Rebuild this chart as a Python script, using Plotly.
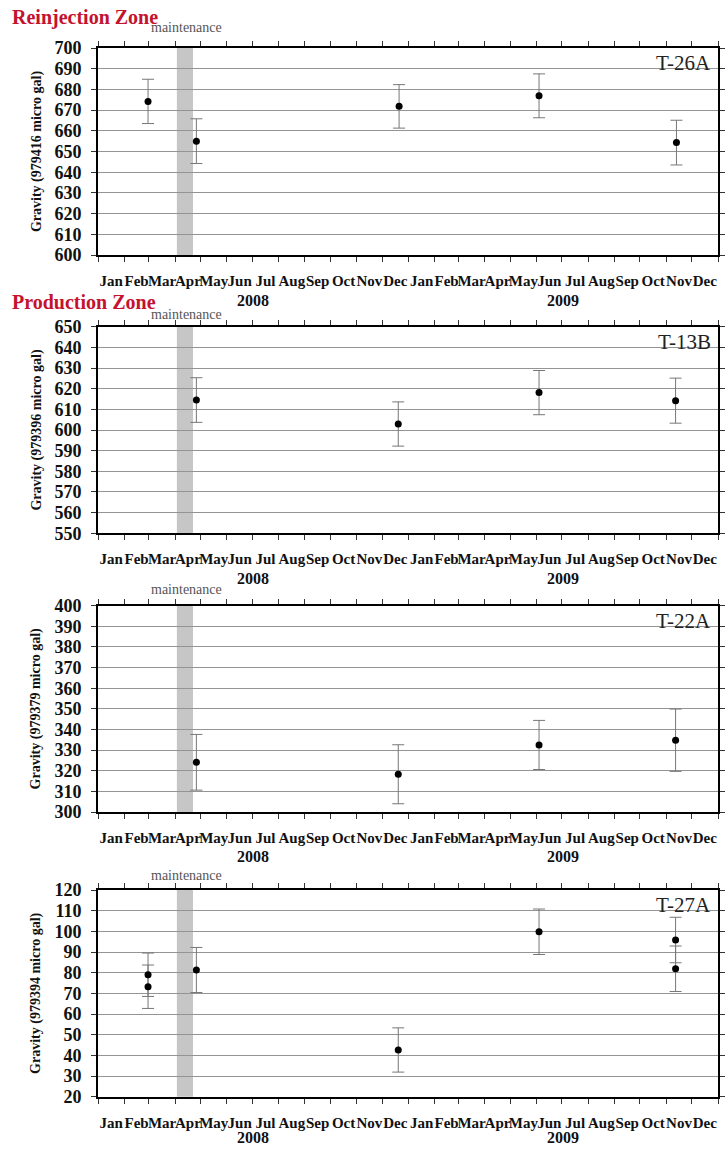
import plotly.graph_objects as go

# ---------------- data ----------------
stations = ["T-26A", "T-13B", "T-22A", "T-27A"]
base_values = ["979416", "979396", "979379", "979394"]
zone_labels = ["Reinjection Zone", "Production Zone", None, None]

t26a_dates = ["2008-02-29", "2008-04-26", "2008-12-21", "2009-06-04", "2009-11-13"]
t26a_vals = [674.2, 655.0, 671.8, 676.9, 654.3]
t26a_err = [10.7, 10.8, 10.5, 10.6, 10.8]

t13b_dates = ["2008-04-26", "2008-12-20", "2009-06-04", "2009-11-12"]
t13b_vals = [614.5, 602.9, 618.1, 614.2]
t13b_err = [10.8, 10.7, 10.7, 10.9]

t22a_dates = ["2008-04-26", "2008-12-20", "2009-06-04", "2009-11-12"]
t22a_vals = [324.1, 318.3, 332.5, 334.8]
t22a_err = [13.5, 14.3, 11.9, 15.1]

t27a_dates = ["2008-02-29", "2008-02-29", "2008-04-26", "2008-12-20", "2009-06-04", "2009-11-12", "2009-11-12"]
t27a_vals = [79.0, 73.2, 81.3, 42.6, 99.8, 95.8, 81.9]
t27a_err = [10.5, 10.5, 10.9, 10.7, 11.0, 11.0, 11.0]

y_ranges = [[600, 700], [550, 650], [300, 400], [20, 120]]
maintenance_start = "2008-04-03"
maintenance_end = "2008-04-22"
x_start = "2008-01-01"
x_end = "2010-01-01"
years = ["2008", "2009"]
year_centers = ["2008-07-02", "2009-07-02"]

series = [
    (t26a_dates, t26a_vals, t26a_err),
    (t13b_dates, t13b_vals, t13b_err),
    (t22a_dates, t22a_vals, t22a_err),
    (t27a_dates, t27a_vals, t27a_err),
]

# ---------------- layout geometry ----------------
W, H = 728, 1149
x_px = (98, 718)
panels_px = [(48, 255), (326.7, 533.3), (605.7, 812), (890, 1096.7)]
zone_shift = [30, 25, 0, 0]
maint_shift = [20, 12, 16, 15]
year_shift = [-45, -45, -44, -41]

SERIF = "Liberation Serif"

fig = go.Figure()
annotations = []
shapes = []
layout_axes = {}

for i, ((d, v, e), station, base, yr) in enumerate(zip(series, stations, base_values, y_ranges)):
    n = i + 1
    xa = "x" if n == 1 else f"x{n}"
    ya = "y" if n == 1 else f"y{n}"
    fig.add_trace(go.Scatter(
        x=d, y=v, mode="markers", xaxis=xa, yaxis=ya,
        marker=dict(color="black", size=7),
        error_y=dict(type="data", array=e, visible=True, color="#777777", thickness=1, width=6),
        showlegend=False, cliponaxis=False,
    ))
    top, bot = panels_px[i]
    xkey = "xaxis" if n == 1 else f"xaxis{n}"
    ykey = "yaxis" if n == 1 else f"yaxis{n}"
    layout_axes[xkey] = dict(
        domain=[x_px[0] / W, x_px[1] / W], anchor=ya, automargin=False,
        type="date", range=[x_start, x_end],
        dtick="M1", tick0=x_start, tickformat="%b", ticklabelmode="period",
        tickangle=0,
        ticks="outside", ticklen=5, tickwidth=1, tickcolor="#333",
        showline=True, linecolor="black", linewidth=2, mirror="ticks",
        showgrid=False, zeroline=False, ticklabelstandoff=6,
        tickfont=dict(family=SERIF, size=15, color="#111", weight="bold"),
        fixedrange=True,
    )
    layout_axes[ykey] = dict(
        domain=[1 - bot / H, 1 - top / H], anchor=xa, automargin=False,
        range=yr, dtick=10, tick0=0,
        ticks="outside", ticklen=5, tickwidth=1, tickcolor="#333",
        showline=True, linecolor="black", linewidth=2, mirror="ticks",
        showgrid=True, gridcolor="#949494", gridwidth=1, zeroline=False,
        ticklabelstandoff=6,
        tickfont=dict(family=SERIF, size=18, color="#111", weight="bold"),
        title=dict(text=f"Gravity ({base} micro gal)", standoff=10,
                   font=dict(family=SERIF, size=14, color="#111", weight="bold")),
        fixedrange=True,
    )
    # maintenance band
    shapes.append(dict(type="rect", xref=xa, yref=f"{ya} domain",
                       x0=maintenance_start, x1=maintenance_end, y0=0, y1=1,
                       fillcolor="#c6c6c6", line=dict(width=0), layer="below"))
    annotations.append(dict(text="maintenance", xref=xa, yref=f"{ya} domain",
                            x="2008-04-14", y=1, yanchor="middle", yshift=maint_shift[i],
                            showarrow=False,
                            font=dict(family=SERIF, size=14, color="#555")))
    # station label
    annotations.append(dict(text=station, xref=f"{xa} domain", yref=f"{ya} domain",
                            x=1, y=1, xanchor="right", yanchor="top", xshift=-5, yshift=-1,
                            showarrow=False, font=dict(family=SERIF, size=21, color="#222")))
    # year labels
    for ytxt, yc in zip(years, year_centers):
        annotations.append(dict(text=ytxt, xref=xa, yref=f"{ya} domain",
                                x=yc, y=0, yanchor="middle", yshift=year_shift[i], showarrow=False,
                                font=dict(family=SERIF, size=16, color="#111", weight="bold")))
    if zone_labels[i]:
        annotations.append(dict(text=zone_labels[i], xref="paper", yref=f"{ya} domain",
                                x=10 / W, y=1, xanchor="left", yanchor="middle",
                                yshift=zone_shift[i], showarrow=False,
                                font=dict(family=SERIF, size=20, color="#c4122f", weight="bold")))

fig.update_layout(
    width=W, height=H,
    margin=dict(l=0, r=0, t=0, b=0),
    paper_bgcolor="white", plot_bgcolor="white",
    annotations=annotations, shapes=shapes,
    **layout_axes,
)

fig.write_html("out.html", config={"displayModeBar": False})
